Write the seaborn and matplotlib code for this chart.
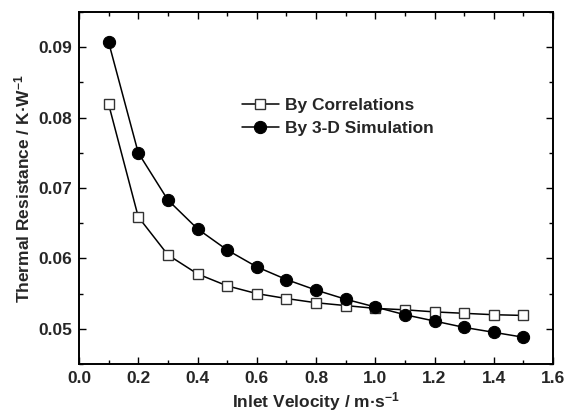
import numpy as np
import pandas as pd
import matplotlib
matplotlib.use("Agg")
import matplotlib.pyplot as plt
import seaborn as sns
from matplotlib.ticker import MultipleLocator, FormatStrFormatter

velocity = [0.1, 0.2, 0.3, 0.4, 0.5, 0.6, 0.7, 0.8, 0.9, 1.0, 1.1, 1.2, 1.3, 1.4, 1.5]
by_correlations = [0.0819, 0.0659, 0.0605, 0.0578, 0.0561, 0.0550, 0.0543, 0.0537,
                   0.0533, 0.0529, 0.0527, 0.0524, 0.0522, 0.0520, 0.0519]
by_simulation = [0.0907, 0.0750, 0.0683, 0.0642, 0.0612, 0.0588, 0.0570, 0.0555,
                 0.0542, 0.0531, 0.0520, 0.0511, 0.0502, 0.0495, 0.0488]
series_names = ["By Correlations", "By 3-D Simulation"]

sns.set_theme(style="ticks")
plt.rcParams['font.family'] = ['Liberation Sans', 'DejaVu Sans']
plt.rcParams['font.weight'] = 'bold'
plt.rcParams['mathtext.fontset'] = 'custom'
plt.rcParams['mathtext.rm'] = 'Liberation Sans'
plt.rcParams['mathtext.default'] = 'regular'

df = pd.DataFrame({
    "v": velocity * 2,
    "R": by_correlations + by_simulation,
    "series": [series_names[0]] * len(velocity) + [series_names[1]] * len(velocity),
})

fig = plt.figure(figsize=(5.66, 4.16), dpi=100)
ax = fig.add_axes([79/566, 1 - 364/416, (553-79)/566, (364-12)/416])

sns.lineplot(data=df[df.series == series_names[0]], x="v", y="R", ax=ax, color="black",
             marker="s", markersize=7.4, markerfacecolor="white", markeredgecolor="#333333",
             markeredgewidth=1.0, linewidth=1.1, label=series_names[0])
sns.lineplot(data=df[df.series == series_names[1]], x="v", y="R", ax=ax, color="black",
             marker="o", markersize=8.8, markerfacecolor="black", markeredgecolor="black",
             linewidth=1.1, label=series_names[1])

ax.set_xlim(0.0, 1.6)
ax.set_ylim(0.045, 0.095)
ax.xaxis.set_major_locator(MultipleLocator(0.2))
ax.xaxis.set_minor_locator(MultipleLocator(0.1))
ax.yaxis.set_major_locator(MultipleLocator(0.01))
ax.yaxis.set_minor_locator(MultipleLocator(0.005))
ax.xaxis.set_major_formatter(FormatStrFormatter('%.1f'))
ax.yaxis.set_major_formatter(FormatStrFormatter('%.2f'))
ax.tick_params(which='both', direction='in', top=True, right=True, color='black')
ax.tick_params(which='major', length=5, width=1.0, labelsize=12.5, pad=5)
ax.tick_params(which='minor', length=3, width=1.0)
for lab in ax.get_xticklabels() + ax.get_yticklabels():
    lab.set_fontweight('bold')
for s in ax.spines.values():
    s.set_linewidth(1.4)
    s.set_color('black')

ax.set_xlabel("Inlet Velocity / m\u00b7s$^{-1}$", fontsize=12.5, fontweight='bold', labelpad=3)
ax.set_ylabel("Thermal Resistance / K\u00b7W$^{-1}$", fontsize=12.5, fontweight='bold', labelpad=4)

leg = ax.legend(loc='upper left', bbox_to_anchor=(0.344, 0.755), frameon=False,
                fontsize=12.5, handlelength=2.1, handletextpad=0.35, labelspacing=0.42,
                borderaxespad=0, borderpad=0)
for t in leg.get_texts():
    t.set_fontweight('bold')

fig.savefig("out.png", dpi=100)
